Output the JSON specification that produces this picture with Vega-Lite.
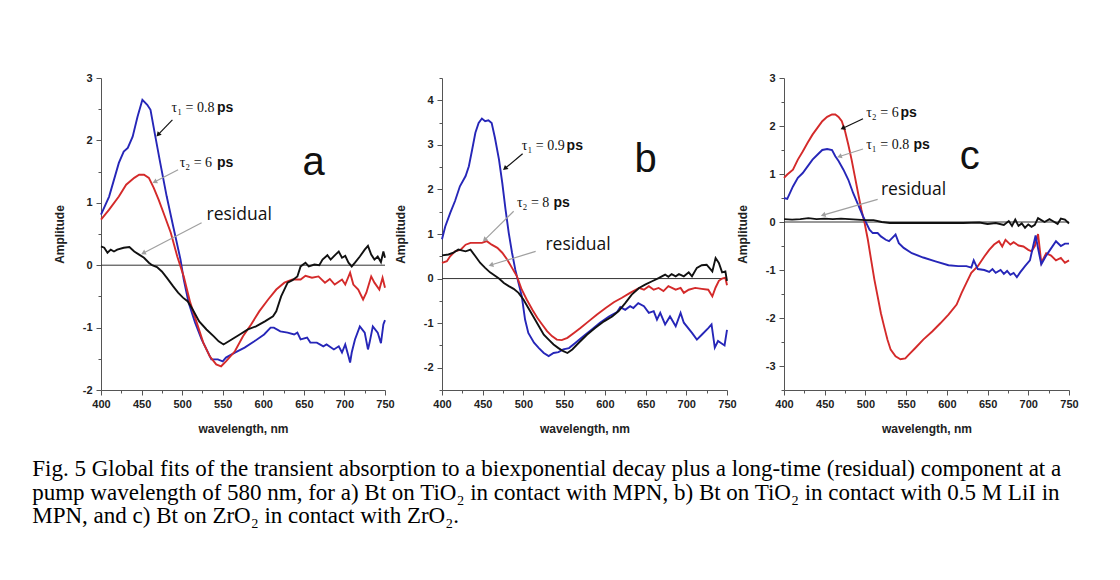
{
  "$schema": "https://vega.github.io/schema/vega-lite/v6.json",
  "background": "white",
  "padding": {"left": 32, "top": 72, "right": 5, "bottom": 5},
  "config": {
    "view": {"stroke": null},
    "axis": {"grid": false, "domainColor": "#555", "tickColor": "#555", "labelFont": "Liberation Sans", "labelFontWeight": "bold", "labelFontSize": 11, "labelColor": "#222", "titleFont": "Liberation Sans", "titleFontWeight": "bold", "titleFontSize": 12, "titleColor": "#222", "labelOverlap": false, "labelFlush": false}
  },
  "title": {
    "text": ["Fig. 5 Global fits of the transient absorption to a biexponential decay plus a long-time (residual) component at a", "pump wavelength of 580 nm, for a) Bt on TiO₂ in contact with MPN, b) Bt on TiO₂ in contact with 0.5 M LiI in", "MPN, and c) Bt on ZrO₂ in contact with ZrO₂."],
    "orient": "bottom", "anchor": "start", "font": "Liberation Serif", "fontSize": 23, "fontWeight": "normal", "color": "#000", "lineHeight": 23.5, "offset": 24, "dx": -21
  },
  "datasets": {
    "zero": [{"wl": 400, "amp": 0}, {"wl": 750, "amp": 0}],
    "curves": [
      {"p":"a","c":"t1","wl":400,"amp":0.81},{"p":"a","c":"t1","wl":410,"amp":1.1},{"p":"a","c":"t1","wl":422,"amp":1.64},{"p":"a","c":"t1","wl":428,"amp":1.82},{"p":"a","c":"t1","wl":433,"amp":1.88},{"p":"a","c":"t1","wl":439,"amp":2.06},{"p":"a","c":"t1","wl":445,"amp":2.38},{"p":"a","c":"t1","wl":451,"amp":2.65},{"p":"a","c":"t1","wl":457,"amp":2.57},{"p":"a","c":"t1","wl":461,"amp":2.49},{"p":"a","c":"t1","wl":467,"amp":2.06},{"p":"a","c":"t1","wl":473,"amp":1.64},{"p":"a","c":"t1","wl":481,"amp":1.1},{"p":"a","c":"t1","wl":489,"amp":0.62},{"p":"a","c":"t1","wl":498,"amp":0.09},{"p":"a","c":"t1","wl":502,"amp":-0.23},{"p":"a","c":"t1","wl":508,"amp":-0.6},{"p":"a","c":"t1","wl":516,"amp":-0.92},{"p":"a","c":"t1","wl":524,"amp":-1.19},{"p":"a","c":"t1","wl":532,"amp":-1.4},{"p":"a","c":"t1","wl":536,"amp":-1.51},{"p":"a","c":"t1","wl":544,"amp":-1.51},{"p":"a","c":"t1","wl":550,"amp":-1.54},{"p":"a","c":"t1","wl":554,"amp":-1.48},{"p":"a","c":"t1","wl":565,"amp":-1.4},{"p":"a","c":"t1","wl":577,"amp":-1.32},{"p":"a","c":"t1","wl":589,"amp":-1.22},{"p":"a","c":"t1","wl":601,"amp":-1.11},{"p":"a","c":"t1","wl":609,"amp":-1.0},{"p":"a","c":"t1","wl":613,"amp":-1.0},{"p":"a","c":"t1","wl":621,"amp":-1.06},{"p":"a","c":"t1","wl":630,"amp":-1.08},{"p":"a","c":"t1","wl":638,"amp":-1.11},{"p":"a","c":"t1","wl":642,"amp":-1.08},{"p":"a","c":"t1","wl":646,"amp":-1.19},{"p":"a","c":"t1","wl":654,"amp":-1.16},{"p":"a","c":"t1","wl":658,"amp":-1.24},{"p":"a","c":"t1","wl":666,"amp":-1.24},{"p":"a","c":"t1","wl":674,"amp":-1.3},{"p":"a","c":"t1","wl":678,"amp":-1.27},{"p":"a","c":"t1","wl":687,"amp":-1.35},{"p":"a","c":"t1","wl":693,"amp":-1.3},{"p":"a","c":"t1","wl":697,"amp":-1.4},{"p":"a","c":"t1","wl":701,"amp":-1.27},{"p":"a","c":"t1","wl":705,"amp":-1.46},{"p":"a","c":"t1","wl":707,"amp":-1.56},{"p":"a","c":"t1","wl":709,"amp":-1.4},{"p":"a","c":"t1","wl":713,"amp":-1.19},{"p":"a","c":"t1","wl":719,"amp":-0.98},{"p":"a","c":"t1","wl":725,"amp":-1.08},{"p":"a","c":"t1","wl":729,"amp":-1.35},{"p":"a","c":"t1","wl":731,"amp":-1.24},{"p":"a","c":"t1","wl":735,"amp":-0.98},{"p":"a","c":"t1","wl":741,"amp":-1.08},{"p":"a","c":"t1","wl":745,"amp":-1.25},{"p":"a","c":"t1","wl":748,"amp":-0.95},{"p":"a","c":"t1","wl":750,"amp":-0.88},
      {"p":"a","c":"t2","wl":400,"amp":0.73},{"p":"a","c":"t2","wl":410,"amp":0.89},{"p":"a","c":"t2","wl":422,"amp":1.1},{"p":"a","c":"t2","wl":431,"amp":1.29},{"p":"a","c":"t2","wl":441,"amp":1.4},{"p":"a","c":"t2","wl":447,"amp":1.45},{"p":"a","c":"t2","wl":453,"amp":1.45},{"p":"a","c":"t2","wl":459,"amp":1.4},{"p":"a","c":"t2","wl":465,"amp":1.24},{"p":"a","c":"t2","wl":471,"amp":1.05},{"p":"a","c":"t2","wl":477,"amp":0.84},{"p":"a","c":"t2","wl":486,"amp":0.52},{"p":"a","c":"t2","wl":494,"amp":0.14},{"p":"a","c":"t2","wl":502,"amp":-0.18},{"p":"a","c":"t2","wl":510,"amp":-0.6},{"p":"a","c":"t2","wl":518,"amp":-0.92},{"p":"a","c":"t2","wl":526,"amp":-1.24},{"p":"a","c":"t2","wl":534,"amp":-1.46},{"p":"a","c":"t2","wl":542,"amp":-1.59},{"p":"a","c":"t2","wl":548,"amp":-1.62},{"p":"a","c":"t2","wl":554,"amp":-1.54},{"p":"a","c":"t2","wl":565,"amp":-1.38},{"p":"a","c":"t2","wl":575,"amp":-1.14},{"p":"a","c":"t2","wl":585,"amp":-0.95},{"p":"a","c":"t2","wl":595,"amp":-0.74},{"p":"a","c":"t2","wl":606,"amp":-0.55},{"p":"a","c":"t2","wl":616,"amp":-0.39},{"p":"a","c":"t2","wl":626,"amp":-0.28},{"p":"a","c":"t2","wl":636,"amp":-0.23},{"p":"a","c":"t2","wl":646,"amp":-0.23},{"p":"a","c":"t2","wl":652,"amp":-0.17},{"p":"a","c":"t2","wl":660,"amp":-0.2},{"p":"a","c":"t2","wl":668,"amp":-0.18},{"p":"a","c":"t2","wl":676,"amp":-0.28},{"p":"a","c":"t2","wl":682,"amp":-0.22},{"p":"a","c":"t2","wl":688,"amp":-0.31},{"p":"a","c":"t2","wl":697,"amp":-0.23},{"p":"a","c":"t2","wl":701,"amp":-0.31},{"p":"a","c":"t2","wl":707,"amp":-0.12},{"p":"a","c":"t2","wl":711,"amp":-0.31},{"p":"a","c":"t2","wl":717,"amp":-0.39},{"p":"a","c":"t2","wl":723,"amp":-0.55},{"p":"a","c":"t2","wl":727,"amp":-0.44},{"p":"a","c":"t2","wl":733,"amp":-0.18},{"p":"a","c":"t2","wl":737,"amp":-0.28},{"p":"a","c":"t2","wl":743,"amp":-0.39},{"p":"a","c":"t2","wl":747,"amp":-0.2},{"p":"a","c":"t2","wl":750,"amp":-0.36},
      {"p":"a","c":"res","wl":400,"amp":0.3},{"p":"a","c":"res","wl":404,"amp":0.28},{"p":"a","c":"res","wl":408,"amp":0.2},{"p":"a","c":"res","wl":412,"amp":0.25},{"p":"a","c":"res","wl":416,"amp":0.22},{"p":"a","c":"res","wl":420,"amp":0.25},{"p":"a","c":"res","wl":428,"amp":0.28},{"p":"a","c":"res","wl":435,"amp":0.29},{"p":"a","c":"res","wl":441,"amp":0.22},{"p":"a","c":"res","wl":447,"amp":0.17},{"p":"a","c":"res","wl":453,"amp":0.12},{"p":"a","c":"res","wl":459,"amp":0.04},{"p":"a","c":"res","wl":463,"amp":0},{"p":"a","c":"res","wl":469,"amp":-0.03},{"p":"a","c":"res","wl":475,"amp":-0.1},{"p":"a","c":"res","wl":481,"amp":-0.2},{"p":"a","c":"res","wl":489,"amp":-0.34},{"p":"a","c":"res","wl":495,"amp":-0.44},{"p":"a","c":"res","wl":501,"amp":-0.52},{"p":"a","c":"res","wl":507,"amp":-0.58},{"p":"a","c":"res","wl":513,"amp":-0.71},{"p":"a","c":"res","wl":521,"amp":-0.9},{"p":"a","c":"res","wl":530,"amp":-1.03},{"p":"a","c":"res","wl":539,"amp":-1.14},{"p":"a","c":"res","wl":545,"amp":-1.22},{"p":"a","c":"res","wl":551,"amp":-1.27},{"p":"a","c":"res","wl":561,"amp":-1.19},{"p":"a","c":"res","wl":571,"amp":-1.11},{"p":"a","c":"res","wl":581,"amp":-1.03},{"p":"a","c":"res","wl":591,"amp":-0.98},{"p":"a","c":"res","wl":602,"amp":-0.9},{"p":"a","c":"res","wl":612,"amp":-0.82},{"p":"a","c":"res","wl":616,"amp":-0.74},{"p":"a","c":"res","wl":622,"amp":-0.5},{"p":"a","c":"res","wl":630,"amp":-0.28},{"p":"a","c":"res","wl":636,"amp":-0.24},{"p":"a","c":"res","wl":642,"amp":-0.18},{"p":"a","c":"res","wl":646,"amp":-0.02},{"p":"a","c":"res","wl":652,"amp":0.04},{"p":"a","c":"res","wl":656,"amp":-0.02},{"p":"a","c":"res","wl":663,"amp":0.01},{"p":"a","c":"res","wl":669,"amp":0},{"p":"a","c":"res","wl":673,"amp":0.09},{"p":"a","c":"res","wl":679,"amp":0.16},{"p":"a","c":"res","wl":683,"amp":0.09},{"p":"a","c":"res","wl":689,"amp":0.17},{"p":"a","c":"res","wl":693,"amp":0.22},{"p":"a","c":"res","wl":697,"amp":0.12},{"p":"a","c":"res","wl":701,"amp":0.15},{"p":"a","c":"res","wl":705,"amp":0.04},{"p":"a","c":"res","wl":709,"amp":-0.02},{"p":"a","c":"res","wl":713,"amp":0.04},{"p":"a","c":"res","wl":719,"amp":0.14},{"p":"a","c":"res","wl":725,"amp":0.25},{"p":"a","c":"res","wl":729,"amp":0.31},{"p":"a","c":"res","wl":733,"amp":0.17},{"p":"a","c":"res","wl":737,"amp":0.09},{"p":"a","c":"res","wl":741,"amp":0.14},{"p":"a","c":"res","wl":745,"amp":0.05},{"p":"a","c":"res","wl":748,"amp":0.22},{"p":"a","c":"res","wl":750,"amp":0.12},
      {"p":"b","c":"t1","wl":400,"amp":0.88},{"p":"b","c":"t1","wl":404,"amp":1.17},{"p":"b","c":"t1","wl":410,"amp":1.47},{"p":"b","c":"t1","wl":416,"amp":1.74},{"p":"b","c":"t1","wl":422,"amp":2.07},{"p":"b","c":"t1","wl":429,"amp":2.3},{"p":"b","c":"t1","wl":433,"amp":2.52},{"p":"b","c":"t1","wl":437,"amp":2.89},{"p":"b","c":"t1","wl":441,"amp":3.27},{"p":"b","c":"t1","wl":445,"amp":3.49},{"p":"b","c":"t1","wl":449,"amp":3.59},{"p":"b","c":"t1","wl":453,"amp":3.53},{"p":"b","c":"t1","wl":457,"amp":3.55},{"p":"b","c":"t1","wl":461,"amp":3.49},{"p":"b","c":"t1","wl":465,"amp":3.16},{"p":"b","c":"t1","wl":470,"amp":2.67},{"p":"b","c":"t1","wl":474,"amp":2.15},{"p":"b","c":"t1","wl":478,"amp":1.55},{"p":"b","c":"t1","wl":482,"amp":1.02},{"p":"b","c":"t1","wl":486,"amp":0.58},{"p":"b","c":"t1","wl":490,"amp":0.2},{"p":"b","c":"t1","wl":494,"amp":-0.1},{"p":"b","c":"t1","wl":498,"amp":-0.4},{"p":"b","c":"t1","wl":502,"amp":-0.92},{"p":"b","c":"t1","wl":506,"amp":-1.22},{"p":"b","c":"t1","wl":513,"amp":-1.44},{"p":"b","c":"t1","wl":519,"amp":-1.56},{"p":"b","c":"t1","wl":525,"amp":-1.67},{"p":"b","c":"t1","wl":531,"amp":-1.74},{"p":"b","c":"t1","wl":537,"amp":-1.67},{"p":"b","c":"t1","wl":543,"amp":-1.65},{"p":"b","c":"t1","wl":549,"amp":-1.59},{"p":"b","c":"t1","wl":556,"amp":-1.56},{"p":"b","c":"t1","wl":564,"amp":-1.44},{"p":"b","c":"t1","wl":574,"amp":-1.29},{"p":"b","c":"t1","wl":584,"amp":-1.14},{"p":"b","c":"t1","wl":594,"amp":-0.99},{"p":"b","c":"t1","wl":605,"amp":-0.85},{"p":"b","c":"t1","wl":615,"amp":-0.75},{"p":"b","c":"t1","wl":619,"amp":-0.64},{"p":"b","c":"t1","wl":625,"amp":-0.7},{"p":"b","c":"t1","wl":631,"amp":-0.62},{"p":"b","c":"t1","wl":635,"amp":-0.66},{"p":"b","c":"t1","wl":641,"amp":-0.55},{"p":"b","c":"t1","wl":648,"amp":-0.62},{"p":"b","c":"t1","wl":654,"amp":-0.77},{"p":"b","c":"t1","wl":660,"amp":-0.73},{"p":"b","c":"t1","wl":664,"amp":-0.92},{"p":"b","c":"t1","wl":668,"amp":-0.77},{"p":"b","c":"t1","wl":674,"amp":-1.03},{"p":"b","c":"t1","wl":680,"amp":-0.85},{"p":"b","c":"t1","wl":687,"amp":-1.07},{"p":"b","c":"t1","wl":693,"amp":-0.77},{"p":"b","c":"t1","wl":697,"amp":-0.99},{"p":"b","c":"t1","wl":707,"amp":-1.22},{"p":"b","c":"t1","wl":713,"amp":-1.37},{"p":"b","c":"t1","wl":719,"amp":-1.26},{"p":"b","c":"t1","wl":727,"amp":-1.11},{"p":"b","c":"t1","wl":731,"amp":-1.03},{"p":"b","c":"t1","wl":735,"amp":-1.55},{"p":"b","c":"t1","wl":739,"amp":-1.4},{"p":"b","c":"t1","wl":743,"amp":-1.45},{"p":"b","c":"t1","wl":747,"amp":-1.5},{"p":"b","c":"t1","wl":750,"amp":-1.15},
      {"p":"b","c":"t2","wl":400,"amp":0.35},{"p":"b","c":"t2","wl":406,"amp":0.39},{"p":"b","c":"t2","wl":410,"amp":0.5},{"p":"b","c":"t2","wl":416,"amp":0.61},{"p":"b","c":"t2","wl":423,"amp":0.65},{"p":"b","c":"t2","wl":429,"amp":0.76},{"p":"b","c":"t2","wl":435,"amp":0.8},{"p":"b","c":"t2","wl":441,"amp":0.8},{"p":"b","c":"t2","wl":449,"amp":0.8},{"p":"b","c":"t2","wl":455,"amp":0.84},{"p":"b","c":"t2","wl":461,"amp":0.76},{"p":"b","c":"t2","wl":468,"amp":0.69},{"p":"b","c":"t2","wl":474,"amp":0.58},{"p":"b","c":"t2","wl":480,"amp":0.43},{"p":"b","c":"t2","wl":486,"amp":0.24},{"p":"b","c":"t2","wl":492,"amp":0.05},{"p":"b","c":"t2","wl":498,"amp":-0.25},{"p":"b","c":"t2","wl":504,"amp":-0.47},{"p":"b","c":"t2","wl":511,"amp":-0.7},{"p":"b","c":"t2","wl":517,"amp":-0.88},{"p":"b","c":"t2","wl":523,"amp":-1.03},{"p":"b","c":"t2","wl":529,"amp":-1.18},{"p":"b","c":"t2","wl":535,"amp":-1.29},{"p":"b","c":"t2","wl":541,"amp":-1.37},{"p":"b","c":"t2","wl":547,"amp":-1.38},{"p":"b","c":"t2","wl":554,"amp":-1.33},{"p":"b","c":"t2","wl":562,"amp":-1.22},{"p":"b","c":"t2","wl":570,"amp":-1.11},{"p":"b","c":"t2","wl":580,"amp":-0.96},{"p":"b","c":"t2","wl":590,"amp":-0.81},{"p":"b","c":"t2","wl":601,"amp":-0.66},{"p":"b","c":"t2","wl":611,"amp":-0.53},{"p":"b","c":"t2","wl":621,"amp":-0.43},{"p":"b","c":"t2","wl":631,"amp":-0.32},{"p":"b","c":"t2","wl":642,"amp":-0.21},{"p":"b","c":"t2","wl":648,"amp":-0.25},{"p":"b","c":"t2","wl":654,"amp":-0.17},{"p":"b","c":"t2","wl":660,"amp":-0.25},{"p":"b","c":"t2","wl":666,"amp":-0.21},{"p":"b","c":"t2","wl":672,"amp":-0.28},{"p":"b","c":"t2","wl":678,"amp":-0.17},{"p":"b","c":"t2","wl":687,"amp":-0.25},{"p":"b","c":"t2","wl":693,"amp":-0.21},{"p":"b","c":"t2","wl":697,"amp":-0.32},{"p":"b","c":"t2","wl":703,"amp":-0.25},{"p":"b","c":"t2","wl":711,"amp":-0.21},{"p":"b","c":"t2","wl":719,"amp":-0.23},{"p":"b","c":"t2","wl":727,"amp":-0.25},{"p":"b","c":"t2","wl":732,"amp":-0.4},{"p":"b","c":"t2","wl":736,"amp":-0.2},{"p":"b","c":"t2","wl":740,"amp":-0.05},{"p":"b","c":"t2","wl":744,"amp":0.0},{"p":"b","c":"t2","wl":748,"amp":0.02},{"p":"b","c":"t2","wl":750,"amp":-0.15},
      {"p":"b","c":"res","wl":400,"amp":0.52},{"p":"b","c":"res","wl":408,"amp":0.54},{"p":"b","c":"res","wl":414,"amp":0.58},{"p":"b","c":"res","wl":420,"amp":0.65},{"p":"b","c":"res","wl":429,"amp":0.61},{"p":"b","c":"res","wl":435,"amp":0.65},{"p":"b","c":"res","wl":441,"amp":0.5},{"p":"b","c":"res","wl":447,"amp":0.35},{"p":"b","c":"res","wl":453,"amp":0.24},{"p":"b","c":"res","wl":459,"amp":0.14},{"p":"b","c":"res","wl":466,"amp":0.05},{"p":"b","c":"res","wl":470,"amp":0},{"p":"b","c":"res","wl":476,"amp":-0.1},{"p":"b","c":"res","wl":482,"amp":-0.17},{"p":"b","c":"res","wl":488,"amp":-0.23},{"p":"b","c":"res","wl":494,"amp":-0.32},{"p":"b","c":"res","wl":500,"amp":-0.47},{"p":"b","c":"res","wl":506,"amp":-0.66},{"p":"b","c":"res","wl":513,"amp":-0.88},{"p":"b","c":"res","wl":519,"amp":-1.07},{"p":"b","c":"res","wl":525,"amp":-1.26},{"p":"b","c":"res","wl":531,"amp":-1.37},{"p":"b","c":"res","wl":537,"amp":-1.48},{"p":"b","c":"res","wl":543,"amp":-1.56},{"p":"b","c":"res","wl":549,"amp":-1.63},{"p":"b","c":"res","wl":554,"amp":-1.67},{"p":"b","c":"res","wl":560,"amp":-1.59},{"p":"b","c":"res","wl":568,"amp":-1.44},{"p":"b","c":"res","wl":578,"amp":-1.26},{"p":"b","c":"res","wl":588,"amp":-1.11},{"p":"b","c":"res","wl":599,"amp":-0.96},{"p":"b","c":"res","wl":609,"amp":-0.85},{"p":"b","c":"res","wl":617,"amp":-0.73},{"p":"b","c":"res","wl":625,"amp":-0.55},{"p":"b","c":"res","wl":633,"amp":-0.36},{"p":"b","c":"res","wl":642,"amp":-0.21},{"p":"b","c":"res","wl":650,"amp":-0.13},{"p":"b","c":"res","wl":658,"amp":-0.06},{"p":"b","c":"res","wl":666,"amp":0.01},{"p":"b","c":"res","wl":670,"amp":0.05},{"p":"b","c":"res","wl":674,"amp":0.09},{"p":"b","c":"res","wl":678,"amp":0.04},{"p":"b","c":"res","wl":682,"amp":0.1},{"p":"b","c":"res","wl":687,"amp":0.05},{"p":"b","c":"res","wl":691,"amp":0.1},{"p":"b","c":"res","wl":697,"amp":0.05},{"p":"b","c":"res","wl":703,"amp":0.14},{"p":"b","c":"res","wl":707,"amp":0.05},{"p":"b","c":"res","wl":713,"amp":0.24},{"p":"b","c":"res","wl":719,"amp":0.3},{"p":"b","c":"res","wl":725,"amp":0.31},{"p":"b","c":"res","wl":732,"amp":0.16},{"p":"b","c":"res","wl":736,"amp":0.46},{"p":"b","c":"res","wl":740,"amp":0.35},{"p":"b","c":"res","wl":744,"amp":0.14},{"p":"b","c":"res","wl":748,"amp":0.16},{"p":"b","c":"res","wl":750,"amp":-0.05},
      {"p":"c","c":"t2","wl":400,"amp":0.92},{"p":"c","c":"t2","wl":404,"amp":0.99},{"p":"c","c":"t2","wl":411,"amp":1.09},{"p":"c","c":"t2","wl":417,"amp":1.3},{"p":"c","c":"t2","wl":423,"amp":1.47},{"p":"c","c":"t2","wl":429,"amp":1.65},{"p":"c","c":"t2","wl":435,"amp":1.82},{"p":"c","c":"t2","wl":441,"amp":1.96},{"p":"c","c":"t2","wl":447,"amp":2.1},{"p":"c","c":"t2","wl":453,"amp":2.19},{"p":"c","c":"t2","wl":459,"amp":2.24},{"p":"c","c":"t2","wl":463,"amp":2.24},{"p":"c","c":"t2","wl":467,"amp":2.19},{"p":"c","c":"t2","wl":471,"amp":2.1},{"p":"c","c":"t2","wl":475,"amp":1.89},{"p":"c","c":"t2","wl":479,"amp":1.61},{"p":"c","c":"t2","wl":483,"amp":1.3},{"p":"c","c":"t2","wl":487,"amp":0.95},{"p":"c","c":"t2","wl":491,"amp":0.6},{"p":"c","c":"t2","wl":495,"amp":0.26},{"p":"c","c":"t2","wl":499,"amp":-0.02},{"p":"c","c":"t2","wl":503,"amp":-0.37},{"p":"c","c":"t2","wl":507,"amp":-0.79},{"p":"c","c":"t2","wl":511,"amp":-1.2},{"p":"c","c":"t2","wl":515,"amp":-1.55},{"p":"c","c":"t2","wl":519,"amp":-1.9},{"p":"c","c":"t2","wl":523,"amp":-2.18},{"p":"c","c":"t2","wl":527,"amp":-2.45},{"p":"c","c":"t2","wl":531,"amp":-2.66},{"p":"c","c":"t2","wl":537,"amp":-2.8},{"p":"c","c":"t2","wl":543,"amp":-2.86},{"p":"c","c":"t2","wl":549,"amp":-2.84},{"p":"c","c":"t2","wl":553,"amp":-2.77},{"p":"c","c":"t2","wl":561,"amp":-2.63},{"p":"c","c":"t2","wl":571,"amp":-2.45},{"p":"c","c":"t2","wl":582,"amp":-2.28},{"p":"c","c":"t2","wl":592,"amp":-2.11},{"p":"c","c":"t2","wl":602,"amp":-1.93},{"p":"c","c":"t2","wl":612,"amp":-1.72},{"p":"c","c":"t2","wl":618,"amp":-1.48},{"p":"c","c":"t2","wl":624,"amp":-1.27},{"p":"c","c":"t2","wl":630,"amp":-1.06},{"p":"c","c":"t2","wl":638,"amp":-0.92},{"p":"c","c":"t2","wl":646,"amp":-0.72},{"p":"c","c":"t2","wl":652,"amp":-0.58},{"p":"c","c":"t2","wl":658,"amp":-0.47},{"p":"c","c":"t2","wl":664,"amp":-0.4},{"p":"c","c":"t2","wl":668,"amp":-0.51},{"p":"c","c":"t2","wl":672,"amp":-0.37},{"p":"c","c":"t2","wl":678,"amp":-0.47},{"p":"c","c":"t2","wl":682,"amp":-0.42},{"p":"c","c":"t2","wl":688,"amp":-0.49},{"p":"c","c":"t2","wl":694,"amp":-0.51},{"p":"c","c":"t2","wl":700,"amp":-0.58},{"p":"c","c":"t2","wl":704,"amp":-0.61},{"p":"c","c":"t2","wl":708,"amp":-0.5},{"p":"c","c":"t2","wl":712,"amp":-0.25},{"p":"c","c":"t2","wl":716,"amp":-0.85},{"p":"c","c":"t2","wl":722,"amp":-0.65},{"p":"c","c":"t2","wl":728,"amp":-0.7},{"p":"c","c":"t2","wl":734,"amp":-0.8},{"p":"c","c":"t2","wl":740,"amp":-0.75},{"p":"c","c":"t2","wl":745,"amp":-0.85},{"p":"c","c":"t2","wl":750,"amp":-0.8},
      {"p":"c","c":"t1","wl":400,"amp":0.5},{"p":"c","c":"t1","wl":404,"amp":0.48},{"p":"c","c":"t1","wl":411,"amp":0.74},{"p":"c","c":"t1","wl":417,"amp":0.92},{"p":"c","c":"t1","wl":423,"amp":1.02},{"p":"c","c":"t1","wl":429,"amp":1.16},{"p":"c","c":"t1","wl":435,"amp":1.3},{"p":"c","c":"t1","wl":441,"amp":1.4},{"p":"c","c":"t1","wl":447,"amp":1.5},{"p":"c","c":"t1","wl":453,"amp":1.52},{"p":"c","c":"t1","wl":459,"amp":1.5},{"p":"c","c":"t1","wl":463,"amp":1.37},{"p":"c","c":"t1","wl":467,"amp":1.27},{"p":"c","c":"t1","wl":473,"amp":1.09},{"p":"c","c":"t1","wl":479,"amp":0.88},{"p":"c","c":"t1","wl":485,"amp":0.6},{"p":"c","c":"t1","wl":491,"amp":0.36},{"p":"c","c":"t1","wl":497,"amp":0.12},{"p":"c","c":"t1","wl":501,"amp":-0.02},{"p":"c","c":"t1","wl":505,"amp":-0.16},{"p":"c","c":"t1","wl":509,"amp":-0.23},{"p":"c","c":"t1","wl":515,"amp":-0.23},{"p":"c","c":"t1","wl":519,"amp":-0.3},{"p":"c","c":"t1","wl":525,"amp":-0.37},{"p":"c","c":"t1","wl":529,"amp":-0.4},{"p":"c","c":"t1","wl":533,"amp":-0.33},{"p":"c","c":"t1","wl":537,"amp":-0.26},{"p":"c","c":"t1","wl":541,"amp":-0.44},{"p":"c","c":"t1","wl":547,"amp":-0.54},{"p":"c","c":"t1","wl":557,"amp":-0.65},{"p":"c","c":"t1","wl":571,"amp":-0.74},{"p":"c","c":"t1","wl":586,"amp":-0.82},{"p":"c","c":"t1","wl":602,"amp":-0.9},{"p":"c","c":"t1","wl":614,"amp":-0.92},{"p":"c","c":"t1","wl":624,"amp":-0.92},{"p":"c","c":"t1","wl":630,"amp":-0.95},{"p":"c","c":"t1","wl":633,"amp":-0.8},{"p":"c","c":"t1","wl":638,"amp":-0.98},{"p":"c","c":"t1","wl":646,"amp":-1.0},{"p":"c","c":"t1","wl":652,"amp":-1.04},{"p":"c","c":"t1","wl":656,"amp":-0.98},{"p":"c","c":"t1","wl":660,"amp":-1.06},{"p":"c","c":"t1","wl":666,"amp":-1.0},{"p":"c","c":"t1","wl":670,"amp":-1.08},{"p":"c","c":"t1","wl":674,"amp":-1.02},{"p":"c","c":"t1","wl":678,"amp":-1.1},{"p":"c","c":"t1","wl":682,"amp":-1.06},{"p":"c","c":"t1","wl":686,"amp":-1.15},{"p":"c","c":"t1","wl":690,"amp":-1.05},{"p":"c","c":"t1","wl":696,"amp":-0.92},{"p":"c","c":"t1","wl":702,"amp":-0.8},{"p":"c","c":"t1","wl":706,"amp":-0.5},{"p":"c","c":"t1","wl":709,"amp":-0.28},{"p":"c","c":"t1","wl":712,"amp":-0.55},{"p":"c","c":"t1","wl":716,"amp":-0.88},{"p":"c","c":"t1","wl":722,"amp":-0.7},{"p":"c","c":"t1","wl":728,"amp":-0.55},{"p":"c","c":"t1","wl":734,"amp":-0.4},{"p":"c","c":"t1","wl":740,"amp":-0.5},{"p":"c","c":"t1","wl":745,"amp":-0.45},{"p":"c","c":"t1","wl":750,"amp":-0.45},
      {"p":"c","c":"res","wl":400,"amp":0.06},{"p":"c","c":"res","wl":410,"amp":0.05},{"p":"c","c":"res","wl":420,"amp":0.06},{"p":"c","c":"res","wl":430,"amp":0.08},{"p":"c","c":"res","wl":440,"amp":0.06},{"p":"c","c":"res","wl":450,"amp":0.07},{"p":"c","c":"res","wl":460,"amp":0.06},{"p":"c","c":"res","wl":470,"amp":0.07},{"p":"c","c":"res","wl":480,"amp":0.06},{"p":"c","c":"res","wl":490,"amp":0.05},{"p":"c","c":"res","wl":500,"amp":0.04},{"p":"c","c":"res","wl":510,"amp":0.04},{"p":"c","c":"res","wl":520,"amp":0.0},{"p":"c","c":"res","wl":530,"amp":-0.02},{"p":"c","c":"res","wl":540,"amp":-0.02},{"p":"c","c":"res","wl":560,"amp":-0.02},{"p":"c","c":"res","wl":580,"amp":-0.02},{"p":"c","c":"res","wl":600,"amp":-0.02},{"p":"c","c":"res","wl":620,"amp":-0.02},{"p":"c","c":"res","wl":640,"amp":-0.01},{"p":"c","c":"res","wl":650,"amp":-0.04},{"p":"c","c":"res","wl":660,"amp":-0.02},{"p":"c","c":"res","wl":670,"amp":-0.06},{"p":"c","c":"res","wl":676,"amp":0.02},{"p":"c","c":"res","wl":680,"amp":-0.08},{"p":"c","c":"res","wl":684,"amp":0.05},{"p":"c","c":"res","wl":688,"amp":-0.08},{"p":"c","c":"res","wl":692,"amp":-0.03},{"p":"c","c":"res","wl":696,"amp":-0.12},{"p":"c","c":"res","wl":700,"amp":-0.05},{"p":"c","c":"res","wl":704,"amp":-0.1},{"p":"c","c":"res","wl":708,"amp":-0.06},{"p":"c","c":"res","wl":712,"amp":0.08},{"p":"c","c":"res","wl":716,"amp":0.04},{"p":"c","c":"res","wl":720,"amp":0.0},{"p":"c","c":"res","wl":726,"amp":0.06},{"p":"c","c":"res","wl":730,"amp":0.02},{"p":"c","c":"res","wl":736,"amp":-0.04},{"p":"c","c":"res","wl":740,"amp":0.07},{"p":"c","c":"res","wl":745,"amp":0.05},{"p":"c","c":"res","wl":750,"amp":-0.03}
    ],
    "notes": [
      {"p":"a","f":"serif","t":"τ₁ = 0.8","wl":487,"amp":2.52},{"p":"a","f":"ps","t":"ps","wl":543,"amp":2.52},
      {"p":"a","f":"serif","t":"τ₂ =  6","wl":497,"amp":1.64},{"p":"a","f":"ps","t":"ps","wl":543,"amp":1.64},
      {"p":"a","f":"res","t":"residual","wl":530,"amp":0.81},{"p":"a","f":"big","t":"a","wl":662,"amp":1.64},
      {"p":"b","f":"serif","t":"τ₁ = 0.9","wl":498,"amp":2.97},{"p":"b","f":"ps","t":"ps","wl":553,"amp":2.97},
      {"p":"b","f":"serif","t":"τ₂ =  8","wl":492,"amp":1.7},{"p":"b","f":"ps","t":"ps","wl":537,"amp":1.7},
      {"p":"b","f":"res","t":"residual","wl":527,"amp":0.76},{"p":"b","f":"big","t":"b","wl":650,"amp":2.67},
      {"p":"c","f":"serif","t":"τ₂ = 6","wl":501,"amp":2.27},{"p":"c","f":"ps","t":"ps","wl":543,"amp":2.27},
      {"p":"c","f":"serif","t":"τ₁ =  0.8","wl":501,"amp":1.61},{"p":"c","f":"ps","t":"ps","wl":559,"amp":1.61},
      {"p":"c","f":"res","t":"residual","wl":519,"amp":0.67},{"p":"c","f":"big","t":"c","wl":628,"amp":1.36}
    ],
    "arrows": [
      {"p":"a","k":"black","wl":488,"amp":2.33,"wl2":471,"amp2":2.1},
      {"p":"a","k":"gray","wl":495,"amp":1.53,"wl2":467,"amp2":1.34},
      {"p":"a","k":"gray","wl":524,"amp":0.68,"wl2":453,"amp2":0.2},
      {"p":"b","k":"black","wl":499,"amp":2.8,"wl2":478,"amp2":2.48},
      {"p":"b","k":"gray","wl":488,"amp":1.51,"wl2":453,"amp2":0.88},
      {"p":"b","k":"gray","wl":515,"amp":0.61,"wl2":461,"amp2":0.31},
      {"p":"c","k":"black","wl":497,"amp":2.15,"wl2":473,"amp2":1.96},
      {"p":"c","k":"gray","wl":497,"amp":1.52,"wl2":469,"amp2":1.37},
      {"p":"c","k":"gray","wl":515,"amp":0.47,"wl2":449,"amp2":0.15}
    ],
    "heads": [
      {"p":"a","k":"black","wl":471,"amp":2.1,"ang":223},
      {"p":"a","k":"gray","wl":467,"amp":1.34,"ang":243},
      {"p":"a","k":"gray","wl":453,"amp":0.2,"ang":243},
      {"p":"b","k":"black","wl":478,"amp":2.48,"ang":230},
      {"p":"b","k":"gray","wl":453,"amp":0.88,"ang":225},
      {"p":"b","k":"gray","wl":461,"amp":0.31,"ang":253},
      {"p":"c","k":"black","wl":473,"amp":1.96,"ang":245},
      {"p":"c","k":"gray","wl":469,"amp":1.37,"ang":252},
      {"p":"c","k":"gray","wl":449,"amp":0.15,"ang":254}
    ]
  },
  "hconcat": [
    {
      "width": 284, "height": 312,
      "encoding": {
        "x": {"field": "wl", "type": "quantitative", "scale": {"domain": [400, 750], "nice": false, "zero": false},
              "axis": {"title": "wavelength, nm", "values": [400,425,450,475,500,525,550,575,600,625,650,675,700,725,750], "labelExpr": "datum.value % 50 === 0 ? datum.label : ''", "tickSize": {"condition": {"test": "datum.value % 50 === 0", "value": 5}, "value": 3}, "titlePadding": 14, "labelPadding": 3}},
        "y": {"field": "amp", "type": "quantitative", "scale": {"domain": [-2, 3], "nice": false, "zero": false},
              "axis": {"title": "Amplitude", "values": [-2,-1.5,-1,-0.5,0,0.5,1,1.5,2,2.5,3], "labelExpr": "datum.value % 1 === 0 ? '' + datum.value : ''", "tickSize": {"condition": {"test": "datum.value % 1 === 0", "value": 5}, "value": 3}, "titlePadding": 16, "labelPadding": 4}}
      },
      "layer": [
        {"data": {"name": "zero"}, "mark": {"type": "line", "color": "#333", "strokeWidth": 1}},
        {"data": {"name": "curves"}, "transform": [{"filter": "datum.p === 'a'"}], "mark": {"type": "line", "strokeWidth": 1.9},
         "encoding": {"color": {"field": "c", "type": "nominal", "scale": {"domain": ["t1", "t2", "res"], "range": ["#2626b8", "#d42a2a", "#111111"]}, "legend": null}, "order": {"field": "wl"}}},
        {"data": {"name": "arrows"}, "transform": [{"filter": "datum.p === 'a'"}], "mark": {"type": "rule", "strokeWidth": 1.2},
         "encoding": {"x2": {"field": "wl2"}, "y2": {"field": "amp2"}, "stroke": {"field": "k", "type": "nominal", "scale": {"domain": ["black", "gray"], "range": ["#111111", "#a0a0a0"]}, "legend": null}}},
        {"data": {"name": "heads"}, "transform": [{"filter": "datum.p === 'a'"}], "mark": {"type": "point", "shape": "triangle", "filled": true, "size": 30, "opacity": 1},
         "encoding": {"angle": {"field": "ang", "type": "quantitative", "scale": null}, "fill": {"field": "k", "type": "nominal", "scale": {"domain": ["black", "gray"], "range": ["#111111", "#a0a0a0"]}, "legend": null}}},
        {"data": {"name": "notes"}, "transform": [{"filter": "datum.p === 'a' && datum.f === 'serif'"}], "mark": {"type": "text", "font": "Liberation Serif", "fontSize": 14, "align": "left", "baseline": "middle", "color": "#111"}, "encoding": {"text": {"field": "t"}}},
        {"data": {"name": "notes"}, "transform": [{"filter": "datum.p === 'a' && datum.f === 'ps'"}], "mark": {"type": "text", "font": "Liberation Sans", "fontWeight": "bold", "fontSize": 14, "align": "left", "baseline": "middle", "color": "#111"}, "encoding": {"text": {"field": "t"}}},
        {"data": {"name": "notes"}, "transform": [{"filter": "datum.p === 'a' && datum.f === 'res'"}], "mark": {"type": "text", "font": "Open Sans", "fontSize": 17.5, "align": "left", "baseline": "middle", "color": "#111"}, "encoding": {"text": {"field": "t"}}},
        {"data": {"name": "notes"}, "transform": [{"filter": "datum.p === 'a' && datum.f === 'big'"}], "mark": {"type": "text", "font": "Liberation Sans", "fontSize": 40, "align": "center", "baseline": "middle", "color": "#111"}, "encoding": {"text": {"field": "t"}}}
      ]
    },
    {
      "width": 285, "height": 312,
      "encoding": {
        "x": {"field": "wl", "type": "quantitative", "scale": {"domain": [400, 750], "nice": false, "zero": false},
              "axis": {"title": "wavelength, nm", "values": [400,425,450,475,500,525,550,575,600,625,650,675,700,725,750], "labelExpr": "datum.value % 50 === 0 ? datum.label : ''", "tickSize": {"condition": {"test": "datum.value % 50 === 0", "value": 5}, "value": 3}, "titlePadding": 14, "labelPadding": 3}},
        "y": {"field": "amp", "type": "quantitative", "scale": {"domain": [-2.5, 4.5], "nice": false, "zero": false},
              "axis": {"title": "Amplitude", "values": [-2.5,-2,-1.5,-1,-0.5,0,0.5,1,1.5,2,2.5,3,3.5,4,4.5], "labelExpr": "datum.value % 1 === 0 ? '' + datum.value : ''", "tickSize": {"condition": {"test": "datum.value % 1 === 0", "value": 5}, "value": 3}, "titlePadding": 16, "labelPadding": 4}}
      },
      "layer": [
        {"data": {"name": "zero"}, "mark": {"type": "line", "color": "#333", "strokeWidth": 1}},
        {"data": {"name": "curves"}, "transform": [{"filter": "datum.p === 'b'"}], "mark": {"type": "line", "strokeWidth": 1.9},
         "encoding": {"color": {"field": "c", "type": "nominal", "scale": {"domain": ["t1", "t2", "res"], "range": ["#2626b8", "#d42a2a", "#111111"]}, "legend": null}, "order": {"field": "wl"}}},
        {"data": {"name": "arrows"}, "transform": [{"filter": "datum.p === 'b'"}], "mark": {"type": "rule", "strokeWidth": 1.2},
         "encoding": {"x2": {"field": "wl2"}, "y2": {"field": "amp2"}, "stroke": {"field": "k", "type": "nominal", "scale": {"domain": ["black", "gray"], "range": ["#111111", "#a0a0a0"]}, "legend": null}}},
        {"data": {"name": "heads"}, "transform": [{"filter": "datum.p === 'b'"}], "mark": {"type": "point", "shape": "triangle", "filled": true, "size": 30, "opacity": 1},
         "encoding": {"angle": {"field": "ang", "type": "quantitative", "scale": null}, "fill": {"field": "k", "type": "nominal", "scale": {"domain": ["black", "gray"], "range": ["#111111", "#a0a0a0"]}, "legend": null}}},
        {"data": {"name": "notes"}, "transform": [{"filter": "datum.p === 'b' && datum.f === 'serif'"}], "mark": {"type": "text", "font": "Liberation Serif", "fontSize": 14, "align": "left", "baseline": "middle", "color": "#111"}, "encoding": {"text": {"field": "t"}}},
        {"data": {"name": "notes"}, "transform": [{"filter": "datum.p === 'b' && datum.f === 'ps'"}], "mark": {"type": "text", "font": "Liberation Sans", "fontWeight": "bold", "fontSize": 14, "align": "left", "baseline": "middle", "color": "#111"}, "encoding": {"text": {"field": "t"}}},
        {"data": {"name": "notes"}, "transform": [{"filter": "datum.p === 'b' && datum.f === 'res'"}], "mark": {"type": "text", "font": "Open Sans", "fontSize": 17.5, "align": "left", "baseline": "middle", "color": "#111"}, "encoding": {"text": {"field": "t"}}},
        {"data": {"name": "notes"}, "transform": [{"filter": "datum.p === 'b' && datum.f === 'big'"}], "mark": {"type": "text", "font": "Liberation Sans", "fontSize": 40, "align": "center", "baseline": "middle", "color": "#111"}, "encoding": {"text": {"field": "t"}}}
      ]
    },
    {
      "width": 285, "height": 312,
      "encoding": {
        "x": {"field": "wl", "type": "quantitative", "scale": {"domain": [400, 750], "nice": false, "zero": false},
              "axis": {"title": "wavelength, nm", "values": [400,425,450,475,500,525,550,575,600,625,650,675,700,725,750], "labelExpr": "datum.value % 50 === 0 ? datum.label : ''", "tickSize": {"condition": {"test": "datum.value % 50 === 0", "value": 5}, "value": 3}, "titlePadding": 14, "labelPadding": 3}},
        "y": {"field": "amp", "type": "quantitative", "scale": {"domain": [-3.5, 3], "nice": false, "zero": false},
              "axis": {"title": "Amplitude", "values": [-3.5,-3,-2.5,-2,-1.5,-1,-0.5,0,0.5,1,1.5,2,2.5,3], "labelExpr": "datum.value % 1 === 0 ? '' + datum.value : ''", "tickSize": {"condition": {"test": "datum.value % 1 === 0", "value": 5}, "value": 3}, "titlePadding": 16, "labelPadding": 4}}
      },
      "layer": [
        {"data": {"name": "zero"}, "mark": {"type": "line", "color": "#333", "strokeWidth": 1}},
        {"data": {"name": "curves"}, "transform": [{"filter": "datum.p === 'c'"}], "mark": {"type": "line", "strokeWidth": 1.9},
         "encoding": {"color": {"field": "c", "type": "nominal", "scale": {"domain": ["t1", "t2", "res"], "range": ["#2626b8", "#d42a2a", "#111111"]}, "legend": null}, "order": {"field": "wl"}}},
        {"data": {"name": "arrows"}, "transform": [{"filter": "datum.p === 'c'"}], "mark": {"type": "rule", "strokeWidth": 1.2},
         "encoding": {"x2": {"field": "wl2"}, "y2": {"field": "amp2"}, "stroke": {"field": "k", "type": "nominal", "scale": {"domain": ["black", "gray"], "range": ["#111111", "#a0a0a0"]}, "legend": null}}},
        {"data": {"name": "heads"}, "transform": [{"filter": "datum.p === 'c'"}], "mark": {"type": "point", "shape": "triangle", "filled": true, "size": 30, "opacity": 1},
         "encoding": {"angle": {"field": "ang", "type": "quantitative", "scale": null}, "fill": {"field": "k", "type": "nominal", "scale": {"domain": ["black", "gray"], "range": ["#111111", "#a0a0a0"]}, "legend": null}}},
        {"data": {"name": "notes"}, "transform": [{"filter": "datum.p === 'c' && datum.f === 'serif'"}], "mark": {"type": "text", "font": "Liberation Serif", "fontSize": 14, "align": "left", "baseline": "middle", "color": "#111"}, "encoding": {"text": {"field": "t"}}},
        {"data": {"name": "notes"}, "transform": [{"filter": "datum.p === 'c' && datum.f === 'ps'"}], "mark": {"type": "text", "font": "Liberation Sans", "fontWeight": "bold", "fontSize": 14, "align": "left", "baseline": "middle", "color": "#111"}, "encoding": {"text": {"field": "t"}}},
        {"data": {"name": "notes"}, "transform": [{"filter": "datum.p === 'c' && datum.f === 'res'"}], "mark": {"type": "text", "font": "Open Sans", "fontSize": 17.5, "align": "left", "baseline": "middle", "color": "#111"}, "encoding": {"text": {"field": "t"}}},
        {"data": {"name": "notes"}, "transform": [{"filter": "datum.p === 'c' && datum.f === 'big'"}], "mark": {"type": "text", "font": "Liberation Sans", "fontSize": 40, "align": "center", "baseline": "middle", "color": "#111"}, "encoding": {"text": {"field": "t"}}}
      ]
    }
  ],
  "spacing": 57,
  "bounds": "flush"
}
